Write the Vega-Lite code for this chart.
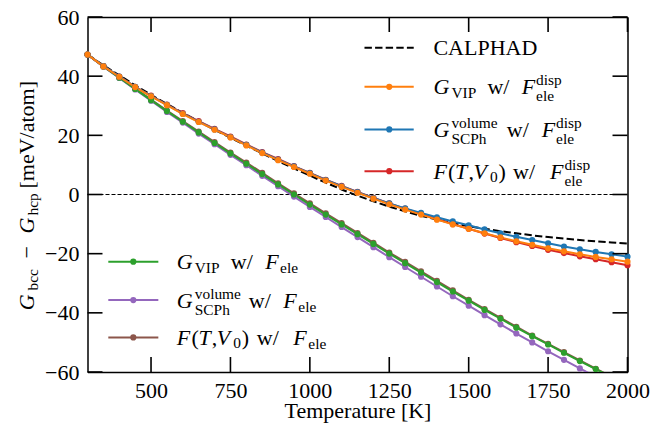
{
  "$schema": "https://vega.github.io/schema/vega-lite/v6.json",
  "width": 540,
  "height": 355,
  "autosize": {"type": "none"},
  "padding": {"left": 87.5, "top": 17, "right": 34.5, "bottom": 56},
  "background": "white",
  "config": {
    "view": {"stroke": null},
    "font": "'Liberation Serif', 'Times New Roman', 'DejaVu Serif', serif",
    "text": {"align": "left", "baseline": "alphabetic", "font": "'Liberation Serif', 'Times New Roman', 'DejaVu Serif', serif", "fontSize": 22, "fill": "black"},
    "rule": {"color": "black"},
    "axis": {
      "labelFont": "'Liberation Serif', 'Times New Roman', 'DejaVu Serif', serif", "labelFontSize": 22, "labelColor": "black",
      "titleFont": "'Liberation Serif', 'Times New Roman', 'DejaVu Serif', serif", "titleFontSize": 22, "titleFontWeight": "normal", "titleColor": "black",
      "ticks": false, "domainColor": "black", "domainWidth": 1.5,
      "grid": false, "labelPadding": 8.5, "labelFlush": false, "labelOverlap": false
    }
  },
  "datasets": {
    "xticks": [{"T":500},{"T":750},{"T":1000},{"T":1250},{"T":1500},{"T":1750},{"T":2000}],
    "yticks": [{"dG":-60},{"dG":-40},{"dG":-20},{"dG":0},{"dG":20},{"dG":40},{"dG":60}],
    "calphad": [
      {"T":300,"dG":47.3},{"T":350,"dG":43.7},{"T":400,"dG":40.3},{"T":450,"dG":36.9},{"T":500,"dG":33.7},{"T":550,"dG":30.6},{"T":600,"dG":27.6},{"T":650,"dG":24.7},{"T":700,"dG":21.9},{"T":750,"dG":19.2},{"T":800,"dG":16.5},{"T":850,"dG":13.9},{"T":900,"dG":11.3},{"T":950,"dG":8.8},{"T":1000,"dG":6.4},{"T":1050,"dG":4.0},{"T":1100,"dG":1.7},{"T":1150,"dG":-0.4},{"T":1200,"dG":-2.3},{"T":1250,"dG":-4.1},{"T":1300,"dG":-5.7},{"T":1350,"dG":-7.2},{"T":1400,"dG":-8.5},{"T":1450,"dG":-9.7},{"T":1500,"dG":-10.7},{"T":1550,"dG":-11.6},{"T":1600,"dG":-12.4},{"T":1650,"dG":-13.1},{"T":1700,"dG":-13.8},{"T":1750,"dG":-14.4},{"T":1800,"dG":-14.9},{"T":1850,"dG":-15.4},{"T":1900,"dG":-15.8},{"T":1950,"dG":-16.2},{"T":2000,"dG":-16.6}
    ],
    "curves": [
      {"series":"F(T,V0) w/ F_ele","T":300,"dG":47.3},{"series":"F(T,V0) w/ F_ele","T":350,"dG":43.4},{"series":"F(T,V0) w/ F_ele","T":400,"dG":39.6},{"series":"F(T,V0) w/ F_ele","T":450,"dG":35.8},{"series":"F(T,V0) w/ F_ele","T":500,"dG":32.1},{"series":"F(T,V0) w/ F_ele","T":550,"dG":28.4},{"series":"F(T,V0) w/ F_ele","T":600,"dG":24.8},{"series":"F(T,V0) w/ F_ele","T":650,"dG":21.3},{"series":"F(T,V0) w/ F_ele","T":700,"dG":17.7},{"series":"F(T,V0) w/ F_ele","T":750,"dG":14.2},{"series":"F(T,V0) w/ F_ele","T":800,"dG":10.8},{"series":"F(T,V0) w/ F_ele","T":850,"dG":7.3},{"series":"F(T,V0) w/ F_ele","T":900,"dG":3.8},{"series":"F(T,V0) w/ F_ele","T":950,"dG":0.4},{"series":"F(T,V0) w/ F_ele","T":1000,"dG":-3.0},{"series":"F(T,V0) w/ F_ele","T":1050,"dG":-6.4},{"series":"F(T,V0) w/ F_ele","T":1100,"dG":-9.7},{"series":"F(T,V0) w/ F_ele","T":1150,"dG":-13.0},{"series":"F(T,V0) w/ F_ele","T":1200,"dG":-16.3},{"series":"F(T,V0) w/ F_ele","T":1250,"dG":-19.6},{"series":"F(T,V0) w/ F_ele","T":1300,"dG":-22.8},{"series":"F(T,V0) w/ F_ele","T":1350,"dG":-26.0},{"series":"F(T,V0) w/ F_ele","T":1400,"dG":-29.2},{"series":"F(T,V0) w/ F_ele","T":1450,"dG":-32.4},{"series":"F(T,V0) w/ F_ele","T":1500,"dG":-35.6},{"series":"F(T,V0) w/ F_ele","T":1550,"dG":-38.7},{"series":"F(T,V0) w/ F_ele","T":1600,"dG":-41.7},{"series":"F(T,V0) w/ F_ele","T":1650,"dG":-44.7},{"series":"F(T,V0) w/ F_ele","T":1700,"dG":-47.7},{"series":"F(T,V0) w/ F_ele","T":1750,"dG":-50.5},{"series":"F(T,V0) w/ F_ele","T":1800,"dG":-53.3},{"series":"F(T,V0) w/ F_ele","T":1850,"dG":-56.1},{"series":"F(T,V0) w/ F_ele","T":1900,"dG":-58.9},{"series":"F(T,V0) w/ F_ele","T":1950,"dG":-61.6},{"series":"F(T,V0) w/ F_ele","T":2000,"dG":-64.2},
      {"series":"G_SCPh^volume w/ F_ele","T":300,"dG":47.3},{"series":"G_SCPh^volume w/ F_ele","T":350,"dG":43.2},{"series":"G_SCPh^volume w/ F_ele","T":400,"dG":39.4},{"series":"G_SCPh^volume w/ F_ele","T":450,"dG":35.5},{"series":"G_SCPh^volume w/ F_ele","T":500,"dG":31.7},{"series":"G_SCPh^volume w/ F_ele","T":550,"dG":27.9},{"series":"G_SCPh^volume w/ F_ele","T":600,"dG":24.3},{"series":"G_SCPh^volume w/ F_ele","T":650,"dG":20.6},{"series":"G_SCPh^volume w/ F_ele","T":700,"dG":17.0},{"series":"G_SCPh^volume w/ F_ele","T":750,"dG":13.4},{"series":"G_SCPh^volume w/ F_ele","T":800,"dG":9.9},{"series":"G_SCPh^volume w/ F_ele","T":850,"dG":6.3},{"series":"G_SCPh^volume w/ F_ele","T":900,"dG":2.8},{"series":"G_SCPh^volume w/ F_ele","T":950,"dG":-0.7},{"series":"G_SCPh^volume w/ F_ele","T":1000,"dG":-4.2},{"series":"G_SCPh^volume w/ F_ele","T":1050,"dG":-7.6},{"series":"G_SCPh^volume w/ F_ele","T":1100,"dG":-11.0},{"series":"G_SCPh^volume w/ F_ele","T":1150,"dG":-14.4},{"series":"G_SCPh^volume w/ F_ele","T":1200,"dG":-17.8},{"series":"G_SCPh^volume w/ F_ele","T":1250,"dG":-21.2},{"series":"G_SCPh^volume w/ F_ele","T":1300,"dG":-24.5},{"series":"G_SCPh^volume w/ F_ele","T":1350,"dG":-27.8},{"series":"G_SCPh^volume w/ F_ele","T":1400,"dG":-31.1},{"series":"G_SCPh^volume w/ F_ele","T":1450,"dG":-34.4},{"series":"G_SCPh^volume w/ F_ele","T":1500,"dG":-37.6},{"series":"G_SCPh^volume w/ F_ele","T":1550,"dG":-40.8},{"series":"G_SCPh^volume w/ F_ele","T":1600,"dG":-43.9},{"series":"G_SCPh^volume w/ F_ele","T":1650,"dG":-47.0},{"series":"G_SCPh^volume w/ F_ele","T":1700,"dG":-50.0},{"series":"G_SCPh^volume w/ F_ele","T":1750,"dG":-53.0},{"series":"G_SCPh^volume w/ F_ele","T":1800,"dG":-55.9},{"series":"G_SCPh^volume w/ F_ele","T":1850,"dG":-58.8},{"series":"G_SCPh^volume w/ F_ele","T":1900,"dG":-61.6},{"series":"G_SCPh^volume w/ F_ele","T":1950,"dG":-64.4},{"series":"G_SCPh^volume w/ F_ele","T":2000,"dG":-67.1},
      {"series":"G_VIP w/ F_ele","T":300,"dG":47.3},{"series":"G_VIP w/ F_ele","T":350,"dG":43.3},{"series":"G_VIP w/ F_ele","T":400,"dG":39.5},{"series":"G_VIP w/ F_ele","T":450,"dG":35.7},{"series":"G_VIP w/ F_ele","T":500,"dG":31.9},{"series":"G_VIP w/ F_ele","T":550,"dG":28.2},{"series":"G_VIP w/ F_ele","T":600,"dG":24.6},{"series":"G_VIP w/ F_ele","T":650,"dG":21.0},{"series":"G_VIP w/ F_ele","T":700,"dG":17.4},{"series":"G_VIP w/ F_ele","T":750,"dG":13.9},{"series":"G_VIP w/ F_ele","T":800,"dG":10.4},{"series":"G_VIP w/ F_ele","T":850,"dG":6.9},{"series":"G_VIP w/ F_ele","T":900,"dG":3.4},{"series":"G_VIP w/ F_ele","T":950,"dG":0.0},{"series":"G_VIP w/ F_ele","T":1000,"dG":-3.4},{"series":"G_VIP w/ F_ele","T":1050,"dG":-6.8},{"series":"G_VIP w/ F_ele","T":1100,"dG":-10.1},{"series":"G_VIP w/ F_ele","T":1150,"dG":-13.4},{"series":"G_VIP w/ F_ele","T":1200,"dG":-16.7},{"series":"G_VIP w/ F_ele","T":1250,"dG":-20.0},{"series":"G_VIP w/ F_ele","T":1300,"dG":-23.2},{"series":"G_VIP w/ F_ele","T":1350,"dG":-26.4},{"series":"G_VIP w/ F_ele","T":1400,"dG":-29.6},{"series":"G_VIP w/ F_ele","T":1450,"dG":-32.8},{"series":"G_VIP w/ F_ele","T":1500,"dG":-35.9},{"series":"G_VIP w/ F_ele","T":1550,"dG":-39.0},{"series":"G_VIP w/ F_ele","T":1600,"dG":-42.0},{"series":"G_VIP w/ F_ele","T":1650,"dG":-45.0},{"series":"G_VIP w/ F_ele","T":1700,"dG":-47.9},{"series":"G_VIP w/ F_ele","T":1750,"dG":-50.7},{"series":"G_VIP w/ F_ele","T":1800,"dG":-53.5},{"series":"G_VIP w/ F_ele","T":1850,"dG":-56.3},{"series":"G_VIP w/ F_ele","T":1900,"dG":-59.0},{"series":"G_VIP w/ F_ele","T":1950,"dG":-61.7},{"series":"G_VIP w/ F_ele","T":2000,"dG":-64.3},
      {"series":"F(T,V0) w/ F_ele^disp","T":300,"dG":47.3},{"series":"F(T,V0) w/ F_ele^disp","T":350,"dG":43.4},{"series":"F(T,V0) w/ F_ele^disp","T":400,"dG":39.9},{"series":"F(T,V0) w/ F_ele^disp","T":450,"dG":36.4},{"series":"F(T,V0) w/ F_ele^disp","T":500,"dG":33.4},{"series":"F(T,V0) w/ F_ele^disp","T":550,"dG":30.4},{"series":"F(T,V0) w/ F_ele^disp","T":600,"dG":27.5},{"series":"F(T,V0) w/ F_ele^disp","T":650,"dG":24.8},{"series":"F(T,V0) w/ F_ele^disp","T":700,"dG":22.2},{"series":"F(T,V0) w/ F_ele^disp","T":750,"dG":19.6},{"series":"F(T,V0) w/ F_ele^disp","T":800,"dG":16.9},{"series":"F(T,V0) w/ F_ele^disp","T":850,"dG":14.3},{"series":"F(T,V0) w/ F_ele^disp","T":900,"dG":12.0},{"series":"F(T,V0) w/ F_ele^disp","T":950,"dG":9.6},{"series":"F(T,V0) w/ F_ele^disp","T":1000,"dG":7.3},{"series":"F(T,V0) w/ F_ele^disp","T":1050,"dG":5.0},{"series":"F(T,V0) w/ F_ele^disp","T":1100,"dG":2.9},{"series":"F(T,V0) w/ F_ele^disp","T":1150,"dG":0.9},{"series":"F(T,V0) w/ F_ele^disp","T":1200,"dG":-1.1},{"series":"F(T,V0) w/ F_ele^disp","T":1250,"dG":-3.0},{"series":"F(T,V0) w/ F_ele^disp","T":1300,"dG":-4.8},{"series":"F(T,V0) w/ F_ele^disp","T":1350,"dG":-6.5},{"series":"F(T,V0) w/ F_ele^disp","T":1400,"dG":-8.3},{"series":"F(T,V0) w/ F_ele^disp","T":1450,"dG":-10.0},{"series":"F(T,V0) w/ F_ele^disp","T":1500,"dG":-11.6},{"series":"F(T,V0) w/ F_ele^disp","T":1550,"dG":-13.2},{"series":"F(T,V0) w/ F_ele^disp","T":1600,"dG":-14.7},{"series":"F(T,V0) w/ F_ele^disp","T":1650,"dG":-16.1},{"series":"F(T,V0) w/ F_ele^disp","T":1700,"dG":-17.4},{"series":"F(T,V0) w/ F_ele^disp","T":1750,"dG":-18.7},{"series":"F(T,V0) w/ F_ele^disp","T":1800,"dG":-19.8},{"series":"F(T,V0) w/ F_ele^disp","T":1850,"dG":-20.9},{"series":"F(T,V0) w/ F_ele^disp","T":1900,"dG":-21.9},{"series":"F(T,V0) w/ F_ele^disp","T":1950,"dG":-22.9},{"series":"F(T,V0) w/ F_ele^disp","T":2000,"dG":-23.9},
      {"series":"G_SCPh^volume w/ F_ele^disp","T":300,"dG":47.3},{"series":"G_SCPh^volume w/ F_ele^disp","T":350,"dG":43.4},{"series":"G_SCPh^volume w/ F_ele^disp","T":400,"dG":39.9},{"series":"G_SCPh^volume w/ F_ele^disp","T":450,"dG":36.4},{"series":"G_SCPh^volume w/ F_ele^disp","T":500,"dG":33.3},{"series":"G_SCPh^volume w/ F_ele^disp","T":550,"dG":30.3},{"series":"G_SCPh^volume w/ F_ele^disp","T":600,"dG":27.3},{"series":"G_SCPh^volume w/ F_ele^disp","T":650,"dG":24.6},{"series":"G_SCPh^volume w/ F_ele^disp","T":700,"dG":22.0},{"series":"G_SCPh^volume w/ F_ele^disp","T":750,"dG":19.4},{"series":"G_SCPh^volume w/ F_ele^disp","T":800,"dG":16.8},{"series":"G_SCPh^volume w/ F_ele^disp","T":850,"dG":14.2},{"series":"G_SCPh^volume w/ F_ele^disp","T":900,"dG":11.8},{"series":"G_SCPh^volume w/ F_ele^disp","T":950,"dG":9.5},{"series":"G_SCPh^volume w/ F_ele^disp","T":1000,"dG":7.2},{"series":"G_SCPh^volume w/ F_ele^disp","T":1050,"dG":4.9},{"series":"G_SCPh^volume w/ F_ele^disp","T":1100,"dG":2.8},{"series":"G_SCPh^volume w/ F_ele^disp","T":1150,"dG":0.8},{"series":"G_SCPh^volume w/ F_ele^disp","T":1200,"dG":-1.2},{"series":"G_SCPh^volume w/ F_ele^disp","T":1250,"dG":-3.0},{"series":"G_SCPh^volume w/ F_ele^disp","T":1300,"dG":-4.7},{"series":"G_SCPh^volume w/ F_ele^disp","T":1350,"dG":-6.2},{"series":"G_SCPh^volume w/ F_ele^disp","T":1400,"dG":-7.7},{"series":"G_SCPh^volume w/ F_ele^disp","T":1450,"dG":-9.1},{"series":"G_SCPh^volume w/ F_ele^disp","T":1500,"dG":-10.4},{"series":"G_SCPh^volume w/ F_ele^disp","T":1550,"dG":-11.8},{"series":"G_SCPh^volume w/ F_ele^disp","T":1600,"dG":-13.1},{"series":"G_SCPh^volume w/ F_ele^disp","T":1650,"dG":-14.3},{"series":"G_SCPh^volume w/ F_ele^disp","T":1700,"dG":-15.4},{"series":"G_SCPh^volume w/ F_ele^disp","T":1750,"dG":-16.5},{"series":"G_SCPh^volume w/ F_ele^disp","T":1800,"dG":-17.6},{"series":"G_SCPh^volume w/ F_ele^disp","T":1850,"dG":-18.5},{"series":"G_SCPh^volume w/ F_ele^disp","T":1900,"dG":-19.4},{"series":"G_SCPh^volume w/ F_ele^disp","T":1950,"dG":-20.2},{"series":"G_SCPh^volume w/ F_ele^disp","T":2000,"dG":-21.0},
      {"series":"G_VIP w/ F_ele^disp","T":300,"dG":47.3},{"series":"G_VIP w/ F_ele^disp","T":350,"dG":43.3},{"series":"G_VIP w/ F_ele^disp","T":400,"dG":39.8},{"series":"G_VIP w/ F_ele^disp","T":450,"dG":36.3},{"series":"G_VIP w/ F_ele^disp","T":500,"dG":33.2},{"series":"G_VIP w/ F_ele^disp","T":550,"dG":30.2},{"series":"G_VIP w/ F_ele^disp","T":600,"dG":27.2},{"series":"G_VIP w/ F_ele^disp","T":650,"dG":24.5},{"series":"G_VIP w/ F_ele^disp","T":700,"dG":21.9},{"series":"G_VIP w/ F_ele^disp","T":750,"dG":19.3},{"series":"G_VIP w/ F_ele^disp","T":800,"dG":16.6},{"series":"G_VIP w/ F_ele^disp","T":850,"dG":14.0},{"series":"G_VIP w/ F_ele^disp","T":900,"dG":11.6},{"series":"G_VIP w/ F_ele^disp","T":950,"dG":9.3},{"series":"G_VIP w/ F_ele^disp","T":1000,"dG":7.0},{"series":"G_VIP w/ F_ele^disp","T":1050,"dG":4.7},{"series":"G_VIP w/ F_ele^disp","T":1100,"dG":2.6},{"series":"G_VIP w/ F_ele^disp","T":1150,"dG":0.6},{"series":"G_VIP w/ F_ele^disp","T":1200,"dG":-1.4},{"series":"G_VIP w/ F_ele^disp","T":1250,"dG":-3.3},{"series":"G_VIP w/ F_ele^disp","T":1300,"dG":-5.1},{"series":"G_VIP w/ F_ele^disp","T":1350,"dG":-6.8},{"series":"G_VIP w/ F_ele^disp","T":1400,"dG":-8.5},{"series":"G_VIP w/ F_ele^disp","T":1450,"dG":-10.1},{"series":"G_VIP w/ F_ele^disp","T":1500,"dG":-11.6},{"series":"G_VIP w/ F_ele^disp","T":1550,"dG":-13.1},{"series":"G_VIP w/ F_ele^disp","T":1600,"dG":-14.5},{"series":"G_VIP w/ F_ele^disp","T":1650,"dG":-15.8},{"series":"G_VIP w/ F_ele^disp","T":1700,"dG":-17.0},{"series":"G_VIP w/ F_ele^disp","T":1750,"dG":-18.2},{"series":"G_VIP w/ F_ele^disp","T":1800,"dG":-19.2},{"series":"G_VIP w/ F_ele^disp","T":1850,"dG":-20.2},{"series":"G_VIP w/ F_ele^disp","T":1900,"dG":-21.1},{"series":"G_VIP w/ F_ele^disp","T":1950,"dG":-21.9},{"series":"G_VIP w/ F_ele^disp","T":2000,"dG":-22.7}
    ]
  },
  "resolve": {"axis": {"x": "independent", "y": "independent"}},
  "layer": [
    {
      "data": {"values": [{}]},
      "mark": {"type": "rule", "strokeDash": [4, 2], "strokeWidth": 1, "color": "black"},
      "encoding": {
        "x": {"datum": 300, "type": "quantitative", "scale": {"domain": [300, 2000], "nice": false, "zero": false},
              "axis": {"orient": "top", "labels": false, "title": null, "values": [500, 750, 1000, 1250, 1500, 1750, 2000]}},
        "x2": {"datum": 2000},
        "y": {"datum": 0, "type": "quantitative", "scale": {"domain": [-60, 60], "nice": false, "zero": false},
              "axis": {"orient": "right", "labels": false, "title": null, "values": [-60, -40, -20, 0, 20, 40, 60]}}
      }
    },
    {
      "layer": [
        {
          "data": {"name": "calphad"},
          "mark": {"type": "line", "color": "black", "strokeWidth": 2, "strokeDash": [7.4, 3.2], "clip": true},
          "encoding": {
            "x": {"field": "T", "type": "quantitative", "scale": {"domain": [300, 2000], "nice": false, "zero": false},
                  "axis": {"orient": "bottom", "values": [500, 750, 1000, 1250, 1500, 1750, 2000], "format": "d",
                           "title": "Temperature [K]", "titleY": 45, "titleBaseline": "alphabetic"}},
            "y": {"field": "dG", "type": "quantitative", "scale": {"domain": [-60, 60], "nice": false, "zero": false},
                  "axis": {"orient": "left", "values": [-60, -40, -20, 0, 20, 40, 60], "format": "d", "title": null}}
          }
        },
        {
          "data": {"name": "curves"},
          "mark": {"type": "line", "strokeWidth": 2, "clip": true},
          "encoding": {
            "x": {"field": "T", "type": "quantitative"},
            "y": {"field": "dG", "type": "quantitative"},
            "color": {"field": "series", "type": "nominal", "legend": null,
                      "scale": {"domain": ["F(T,V0) w/ F_ele", "G_SCPh^volume w/ F_ele", "G_VIP w/ F_ele", "F(T,V0) w/ F_ele^disp", "G_SCPh^volume w/ F_ele^disp", "G_VIP w/ F_ele^disp"],
                                "range": ["#8c564b", "#9467bd", "#2ca02c", "#d62728", "#1f77b4", "#ff7f0e"]}}
          }
        },
        {
          "data": {"name": "curves"},
          "transform": [{"filter": "datum.dG >= -60"}],
          "mark": {"type": "circle", "size": 38, "opacity": 1},
          "encoding": {
            "x": {"field": "T", "type": "quantitative"},
            "y": {"field": "dG", "type": "quantitative"},
            "color": {"field": "series", "type": "nominal", "legend": null}
          }
        },
        {
          "data": {"name": "xticks"},
          "mark": {"type": "rule", "strokeWidth": 1.6, "color": "black"},
          "encoding": {"x": {"field": "T", "type": "quantitative"}, "y": {"datum": -60, "type": "quantitative"}, "y2": {"datum": -54.93}}
        },
        {
          "data": {"name": "xticks"},
          "mark": {"type": "rule", "strokeWidth": 1.6, "color": "black"},
          "encoding": {"x": {"field": "T", "type": "quantitative"}, "y": {"datum": 60, "type": "quantitative"}, "y2": {"datum": 54.93}}
        },
        {
          "data": {"name": "yticks"},
          "mark": {"type": "rule", "strokeWidth": 1.6, "color": "black"},
          "encoding": {"y": {"field": "dG", "type": "quantitative"}, "x": {"datum": 300, "type": "quantitative"}, "x2": {"datum": 347.2}}
        },
        {
          "data": {"name": "yticks"},
          "mark": {"type": "rule", "strokeWidth": 1.6, "color": "black"},
          "encoding": {"y": {"field": "dG", "type": "quantitative"}, "x": {"datum": 2000, "type": "quantitative"}, "x2": {"datum": 1952.8}}
        },
        {
          "data": {"values": [{"series": "CALPHAD"}]},
          "encoding": {"x": {"datum": 1389, "type": "quantitative"}, "y": {"datum": 49.6, "type": "quantitative"}},
          "layer": [
            {"mark": {"type": "rule", "color": "black", "strokeWidth": 2, "strokeDash": [7.4, 3.2]}, "encoding": {"x": {"datum": 1172, "type": "quantitative"}, "x2": {"datum": 1327}}},
            {"mark": {"type": "text", "text": "CALPHAD", "dy": 7.5}}
          ]
        },
        {
          "data": {"values": [{"series": "G_VIP w/ F_ele^disp"}]},
          "encoding": {"x": {"datum": 1389, "type": "quantitative"}, "y": {"datum": 36.4, "type": "quantitative"}},
          "layer": [
            {"mark": {"type": "rule", "strokeWidth": 2}, "encoding": {"x": {"datum": 1172, "type": "quantitative"}, "x2": {"datum": 1327}, "color": {"field": "series", "type": "nominal", "legend": null}}},
            {"mark": {"type": "circle", "size": 38, "opacity": 1}, "encoding": {"x": {"datum": 1250, "type": "quantitative"}, "color": {"field": "series", "type": "nominal", "legend": null}}},
            {"mark": {"type": "text", "text": "G", "fontStyle": "italic", "dy": 7.5}},
            {"mark": {"type": "text", "text": "VIP", "fontSize": 15.4, "dx": 18, "dy": 11.5}},
            {"mark": {"type": "text", "text": "w/", "dx": 54, "dy": 7.5}},
            {"mark": {"type": "text", "text": "F", "fontStyle": "italic", "dx": 88.4, "dy": 7.5}},
            {"mark": {"type": "text", "text": "ele", "fontSize": 15.4, "dx": 102.7, "dy": 14.5}},
            {"mark": {"type": "text", "text": "disp", "fontSize": 15.4, "dx": 102.7, "dy": -1.5}}
          ]
        },
        {
          "data": {"values": [{"series": "G_SCPh^volume w/ F_ele^disp"}]},
          "encoding": {"x": {"datum": 1389, "type": "quantitative"}, "y": {"datum": 22.0, "type": "quantitative"}},
          "layer": [
            {"mark": {"type": "rule", "strokeWidth": 2}, "encoding": {"x": {"datum": 1172, "type": "quantitative"}, "x2": {"datum": 1327}, "color": {"field": "series", "type": "nominal", "legend": null}}},
            {"mark": {"type": "circle", "size": 38, "opacity": 1}, "encoding": {"x": {"datum": 1250, "type": "quantitative"}, "color": {"field": "series", "type": "nominal", "legend": null}}},
            {"mark": {"type": "text", "text": "G", "fontStyle": "italic", "dy": 7.5}},
            {"mark": {"type": "text", "text": "SCPh", "fontSize": 15.4, "dx": 18, "dy": 14.5}},
            {"mark": {"type": "text", "text": "volume", "fontSize": 15.4, "dx": 18, "dy": -1.5}},
            {"mark": {"type": "text", "text": "w/", "dx": 73.4, "dy": 7.5}},
            {"mark": {"type": "text", "text": "F", "fontStyle": "italic", "dx": 108.4, "dy": 7.5}},
            {"mark": {"type": "text", "text": "ele", "fontSize": 15.4, "dx": 122.7, "dy": 14.5}},
            {"mark": {"type": "text", "text": "disp", "fontSize": 15.4, "dx": 122.7, "dy": -1.5}}
          ]
        },
        {
          "data": {"values": [{"series": "F(T,V0) w/ F_ele^disp"}]},
          "encoding": {"x": {"datum": 1389, "type": "quantitative"}, "y": {"datum": 7.9, "type": "quantitative"}},
          "layer": [
            {"mark": {"type": "rule", "strokeWidth": 2}, "encoding": {"x": {"datum": 1172, "type": "quantitative"}, "x2": {"datum": 1327}, "color": {"field": "series", "type": "nominal", "legend": null}}},
            {"mark": {"type": "circle", "size": 38, "opacity": 1}, "encoding": {"x": {"datum": 1250, "type": "quantitative"}, "color": {"field": "series", "type": "nominal", "legend": null}}},
            {"mark": {"type": "text", "text": "F", "fontStyle": "italic", "dy": 7.5}},
            {"mark": {"type": "text", "text": "(", "dx": 14.7, "dy": 7.5}},
            {"mark": {"type": "text", "text": "T", "fontStyle": "italic", "dx": 21.7, "dy": 7.5}},
            {"mark": {"type": "text", "text": ",", "dx": 35, "dy": 7.5}},
            {"mark": {"type": "text", "text": "V", "fontStyle": "italic", "dx": 40, "dy": 7.5}},
            {"mark": {"type": "text", "text": "0", "fontSize": 15.4, "dx": 56.7, "dy": 10.8}},
            {"mark": {"type": "text", "text": ")", "dx": 65, "dy": 7.5}},
            {"mark": {"type": "text", "text": "w/", "dx": 79.7, "dy": 7.5}},
            {"mark": {"type": "text", "text": "F", "fontStyle": "italic", "dx": 116.7, "dy": 7.5}},
            {"mark": {"type": "text", "text": "ele", "fontSize": 15.4, "dx": 131, "dy": 14.5}},
            {"mark": {"type": "text", "text": "disp", "fontSize": 15.4, "dx": 131, "dy": -1.5}}
          ]
        },
        {
          "data": {"values": [{"series": "G_VIP w/ F_ele"}]},
          "encoding": {"x": {"datum": 581, "type": "quantitative"}, "y": {"datum": -22.7, "type": "quantitative"}},
          "layer": [
            {"mark": {"type": "rule", "strokeWidth": 2}, "encoding": {"x": {"datum": 365.5, "type": "quantitative"}, "x2": {"datum": 523}, "color": {"field": "series", "type": "nominal", "legend": null}}},
            {"mark": {"type": "circle", "size": 38, "opacity": 1}, "encoding": {"x": {"datum": 444.2, "type": "quantitative"}, "color": {"field": "series", "type": "nominal", "legend": null}}},
            {"mark": {"type": "text", "text": "G", "fontStyle": "italic", "dy": 7.5}},
            {"mark": {"type": "text", "text": "VIP", "fontSize": 15.4, "dx": 18, "dy": 11.5}},
            {"mark": {"type": "text", "text": "w/", "dx": 54, "dy": 7.5}},
            {"mark": {"type": "text", "text": "F", "fontStyle": "italic", "dx": 88.4, "dy": 7.5}},
            {"mark": {"type": "text", "text": "ele", "fontSize": 15.4, "dx": 103.3, "dy": 11.5}}
          ]
        },
        {
          "data": {"values": [{"series": "G_SCPh^volume w/ F_ele"}]},
          "encoding": {"x": {"datum": 581, "type": "quantitative"}, "y": {"datum": -35.7, "type": "quantitative"}},
          "layer": [
            {"mark": {"type": "rule", "strokeWidth": 2}, "encoding": {"x": {"datum": 365.5, "type": "quantitative"}, "x2": {"datum": 523}, "color": {"field": "series", "type": "nominal", "legend": null}}},
            {"mark": {"type": "circle", "size": 38, "opacity": 1}, "encoding": {"x": {"datum": 444.2, "type": "quantitative"}, "color": {"field": "series", "type": "nominal", "legend": null}}},
            {"mark": {"type": "text", "text": "G", "fontStyle": "italic", "dy": 7.5}},
            {"mark": {"type": "text", "text": "SCPh", "fontSize": 15.4, "dx": 18, "dy": 14.5}},
            {"mark": {"type": "text", "text": "volume", "fontSize": 15.4, "dx": 18, "dy": -1.5}},
            {"mark": {"type": "text", "text": "w/", "dx": 72, "dy": 7.5}},
            {"mark": {"type": "text", "text": "F", "fontStyle": "italic", "dx": 106.6, "dy": 7.5}},
            {"mark": {"type": "text", "text": "ele", "fontSize": 15.4, "dx": 121.6, "dy": 11.5}}
          ]
        },
        {
          "data": {"values": [{"series": "F(T,V0) w/ F_ele"}]},
          "encoding": {"x": {"datum": 581, "type": "quantitative"}, "y": {"datum": -48.3, "type": "quantitative"}},
          "layer": [
            {"mark": {"type": "rule", "strokeWidth": 2}, "encoding": {"x": {"datum": 365.5, "type": "quantitative"}, "x2": {"datum": 523}, "color": {"field": "series", "type": "nominal", "legend": null}}},
            {"mark": {"type": "circle", "size": 38, "opacity": 1}, "encoding": {"x": {"datum": 444.2, "type": "quantitative"}, "color": {"field": "series", "type": "nominal", "legend": null}}},
            {"mark": {"type": "text", "text": "F", "fontStyle": "italic", "dy": 7.5}},
            {"mark": {"type": "text", "text": "(", "dx": 14.7, "dy": 7.5}},
            {"mark": {"type": "text", "text": "T", "fontStyle": "italic", "dx": 21.7, "dy": 7.5}},
            {"mark": {"type": "text", "text": ",", "dx": 35, "dy": 7.5}},
            {"mark": {"type": "text", "text": "V", "fontStyle": "italic", "dx": 40, "dy": 7.5}},
            {"mark": {"type": "text", "text": "0", "fontSize": 15.4, "dx": 56.6, "dy": 10.8}},
            {"mark": {"type": "text", "text": ")", "dx": 65, "dy": 7.5}},
            {"mark": {"type": "text", "text": "w/", "dx": 80, "dy": 7.5}},
            {"mark": {"type": "text", "text": "F", "fontStyle": "italic", "dx": 116.6, "dy": 7.5}},
            {"mark": {"type": "text", "text": "ele", "fontSize": 15.4, "dx": 131.6, "dy": 11.5}}
          ]
        },
        {
          "data": {"values": [{"label": "y title"}]},
          "encoding": {"x": {"datum": 300, "type": "quantitative"}, "y": {"datum": 0, "type": "quantitative"}},
          "layer": [
            {"mark": {"type": "text", "text": "G", "fontStyle": "italic", "angle": 270, "dx": -115.7, "dy": -53.5}},
            {"mark": {"type": "text", "text": "bcc", "fontSize": 15.4, "angle": 270, "dx": -96, "dy": -50}},
            {"mark": {"type": "text", "text": "−", "angle": 270, "dx": -64, "dy": -53.5}},
            {"mark": {"type": "text", "text": "G", "fontStyle": "italic", "angle": 270, "dx": -39, "dy": -53.5}},
            {"mark": {"type": "text", "text": "hcp", "fontSize": 15.4, "angle": 270, "dx": -21, "dy": -50}},
            {"mark": {"type": "text", "text": "[meV/atom]", "angle": 270, "dx": 6, "dy": -53.5}}
          ]
        }
      ]
    }
  ]
}
